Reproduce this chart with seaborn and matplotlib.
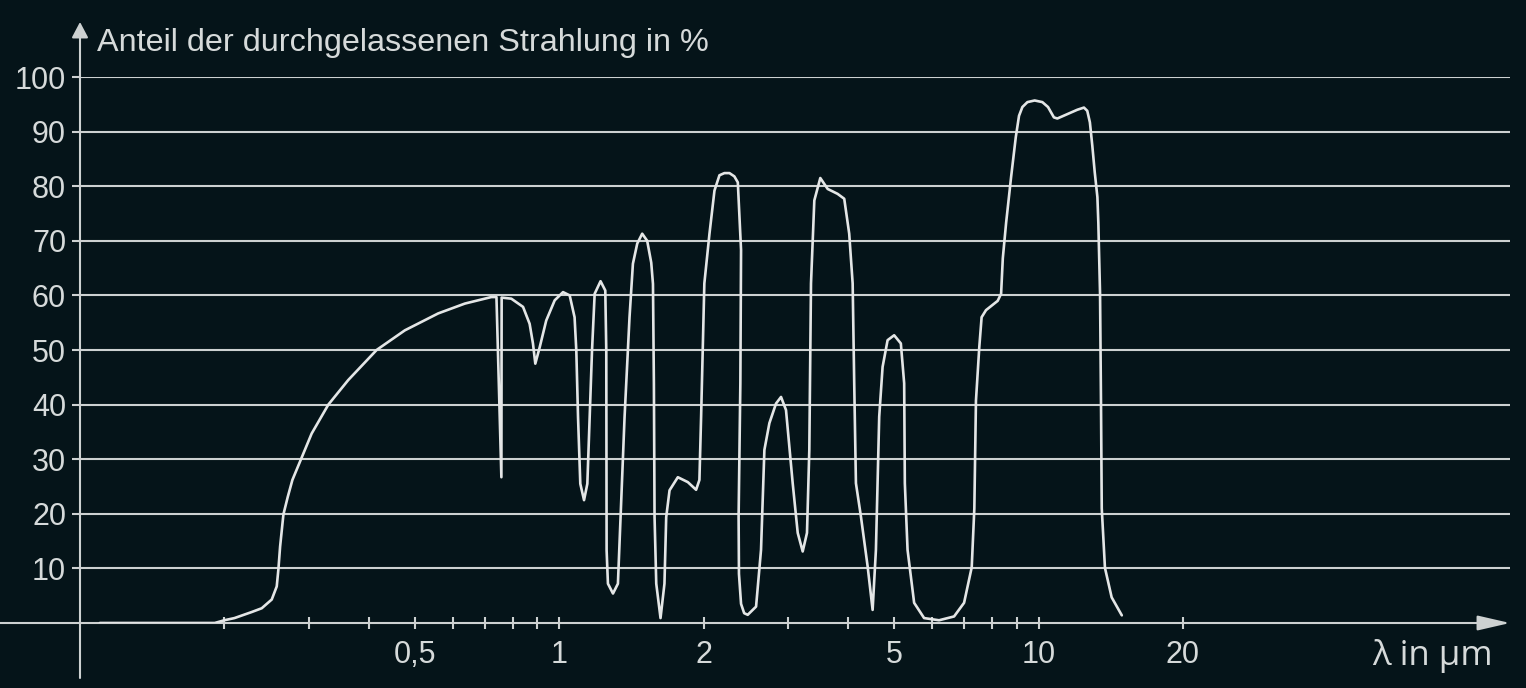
import matplotlib
matplotlib.use("Agg")
import matplotlib.pyplot as plt
import numpy as np
import pandas as pd
import seaborn as sns
from matplotlib.ticker import NullLocator

# ---------------- data ----------------
wavelength_um = [
    0.110, 0.191, 0.200, 0.210, 0.228, 0.2394, 0.2512, 0.2573, 0.2594, 0.2615,
    0.2657, 0.2713, 0.2774, 0.2891, 0.3043, 0.3297, 0.3628, 0.4157, 0.4761, 0.5588,
    0.6351, 0.7215, 0.7393, 0.757, 0.758, 0.794, 0.840, 0.867, 0.881, 0.891,
    0.910, 0.939, 0.978, 1.018, 1.051, 1.076, 1.085, 1.094, 1.106, 1.126,
    1.144, 1.157, 1.170, 1.185, 1.219, 1.247, 1.253, 1.254, 1.255, 1.263,
    1.294, 1.325, 1.342, 1.368, 1.401, 1.424, 1.454, 1.489, 1.525, 1.555,
    1.568, 1.575, 1.580, 1.593, 1.626, 1.657, 1.671, 1.698, 1.767, 1.854,
    1.929, 1.960, 1.976, 2.007, 2.057, 2.107, 2.158, 2.210, 2.264, 2.318,
    2.357, 2.394, 2.386, 2.366, 2.370, 2.394, 2.430, 2.472, 2.573, 2.635,
    2.678, 2.743, 2.832, 2.901, 2.971, 3.068, 3.143, 3.219, 3.286, 3.323,
    3.350, 3.404, 3.503, 3.629, 3.806, 3.930, 4.025, 4.092, 4.123, 4.157,
    4.258, 4.397, 4.504, 4.576, 4.649, 4.725, 4.840, 4.995, 5.158, 5.241,
    5.258, 5.327, 5.498, 5.768, 6.197, 6.661, 6.989, 7.250, 7.342, 7.399,
    7.518, 7.603, 7.765, 8.213, 8.349, 8.418, 8.553, 8.763, 8.960, 9.100,
    9.248, 9.474, 9.810, 10.18, 10.46, 10.76, 10.94, 11.48, 12.04, 12.43,
    12.63, 12.79, 12.94, 13.09, 13.26, 13.32, 13.43, 13.49, 13.54, 13.75,
    14.20, 14.91,
]
transmission_pct = [
    0.0, 0.0, 0.5, 0.9, 2.0, 2.7, 4.3, 6.7, 9.9, 14.0,
    19.9, 23.1, 26.2, 30.0, 34.7, 40.0, 44.5, 50.0, 53.6, 56.7,
    58.5, 59.7, 59.7, 26.7, 59.6, 59.4, 57.9, 54.8, 51.2, 47.5,
    50.5, 55.4, 59.1, 60.6, 60.0, 56.0, 49.9, 37.7, 25.5, 22.5,
    25.5, 37.7, 49.9, 60.3, 62.6, 60.9, 49.9, 31.6, 13.3, 7.2,
    5.4, 7.2, 19.4, 37.7, 56.0, 65.8, 69.5, 71.3, 70.0, 66.0,
    62.1, 43.8, 19.4, 7.2, 0.9, 7.2, 19.4, 24.3, 26.7, 25.8,
    24.4, 26.2, 37.8, 62.2, 71.3, 79.2, 82.0, 82.4, 82.4, 81.8,
    80.7, 68.3, 43.9, 19.5, 9.0, 3.5, 1.8, 1.5, 3.0, 13.4,
    31.7, 36.6, 40.2, 41.4, 39.0, 25.6, 16.5, 13.1, 16.5, 31.7,
    62.2, 77.4, 81.5, 79.5, 78.6, 77.7, 71.3, 62.2, 43.9, 25.6,
    19.5, 10.4, 2.4, 13.4, 37.8, 46.9, 51.8, 52.7, 51.2, 43.9,
    25.6, 13.4, 3.7, 0.9, 0.5, 1.2, 3.7, 10.2, 21.0, 40.7,
    50.5, 56.0, 57.3, 59.0, 60.3, 66.8, 73.3, 81.8, 89.0, 92.9,
    94.5, 95.4, 95.7, 95.4, 94.5, 92.6, 92.4, 93.2, 94.0, 94.4,
    93.8, 91.7, 87.4, 82.6, 78.0, 73.3, 60.3, 40.7, 21.0, 10.1,
    4.7, 1.4,
]

x_ticks = [0.2, 0.3, 0.4, 0.5, 0.6, 0.7, 0.8, 0.9, 1, 2, 3, 4, 5, 6, 7, 8, 9, 10, 20]
x_tick_labels = ["", "", "", "0,5", "", "", "", "", "1", "2", "", "", "5", "", "", "", "", "10", "20"]
y_ticks = [10, 20, 30, 40, 50, 60, 70, 80, 90, 100]
y_tick_labels = ["10", "20", "30", "40", "50", "60", "70", "80", "90", "100"]

title_text = "Anteil der durchgelassenen Strahlung in %"
xlabel_text = "λ in μm"

# ---------------- style ----------------
BG = "#051419"
GRID = "#cdd1d1"
TEXT = "#d6dada"
CURVE = "#e4e6e6"

sns.set_theme(style="dark", rc={
    "axes.facecolor": BG,
    "figure.facecolor": BG,
    "savefig.facecolor": BG,
})
plt.rcParams["font.family"] = ["Liberation Sans", "DejaVu Sans"]

W, H = 1526, 688
fig = plt.figure(figsize=(W / 100, H / 100), dpi=100)
# axes: x from pixel 80 to 1510, y=0 at pixel 623, y=100 at pixel 77
ax = fig.add_axes([80 / W, (H - 623) / H, 1430 / W, 546 / H])
ax.set_facecolor(BG)

df = pd.DataFrame({"wavelength": wavelength_um, "transmission": transmission_pct})
ax.set_xscale("log")
sns.lineplot(data=df, x="wavelength", y="transmission", sort=False, estimator=None,
             color=CURVE, linewidth=1.9, ax=ax, zorder=5)

ax.set_xlim(0.1, 10 ** ((1510 - 558) / 480))
ax.set_ylim(0, 100)

for s in ax.spines.values():
    s.set_visible(False)

ax.set_xticks(x_ticks)
ax.set_xticklabels(x_tick_labels)
ax.xaxis.set_minor_locator(NullLocator())
ax.set_yticks(y_ticks)
ax.set_yticklabels(y_tick_labels)
ax.yaxis.set_minor_locator(NullLocator())

ax.tick_params(axis="x", which="major", direction="inout", length=8, width=1.5,
               color=GRID, labelcolor=TEXT, labelsize=22, pad=8, bottom=True)
ax.tick_params(axis="y", which="major", direction="out", length=6, width=1.5,
               color=GRID, labelcolor=TEXT, labelsize=22, pad=4, left=True)

ax.yaxis.grid(True, color=GRID, linewidth=1.5, zorder=1)
ax.xaxis.grid(False)
ax.set_axisbelow(True)
ax.set_xlabel("")
ax.set_ylabel("")

# axis arrows
ax.annotate("", xy=(1.0, 0.0), xytext=(-80 / 1430, 0.0),
            xycoords="axes fraction", textcoords="axes fraction",
            arrowprops=dict(arrowstyle="-|>,head_length=1.0,head_width=0.23",
                            mutation_scale=20, color=GRID, lw=1.5,
                            shrinkA=0, shrinkB=0), annotation_clip=False, zorder=3)
ax.annotate("", xy=(0.0, (623 - 22) / 546), xytext=(0.0, (623 - 678) / 546),
            xycoords="axes fraction", textcoords="axes fraction",
            arrowprops=dict(arrowstyle="-|>,head_length=0.95,head_width=0.5",
                            mutation_scale=10, color=GRID, lw=1.5,
                            shrinkA=0, shrinkB=0), annotation_clip=False, zorder=3)

fig.text(97 / W, 1 - 51 / H, title_text, ha="left", va="baseline",
         fontsize=23.3, color=TEXT)
fig.text(1493 / W, 1 - 665 / H, xlabel_text, ha="right", va="baseline",
         fontsize=25, color=TEXT, family=["Open Sans", "DejaVu Sans"])

fig.savefig("out.png", dpi=100, facecolor=BG)
